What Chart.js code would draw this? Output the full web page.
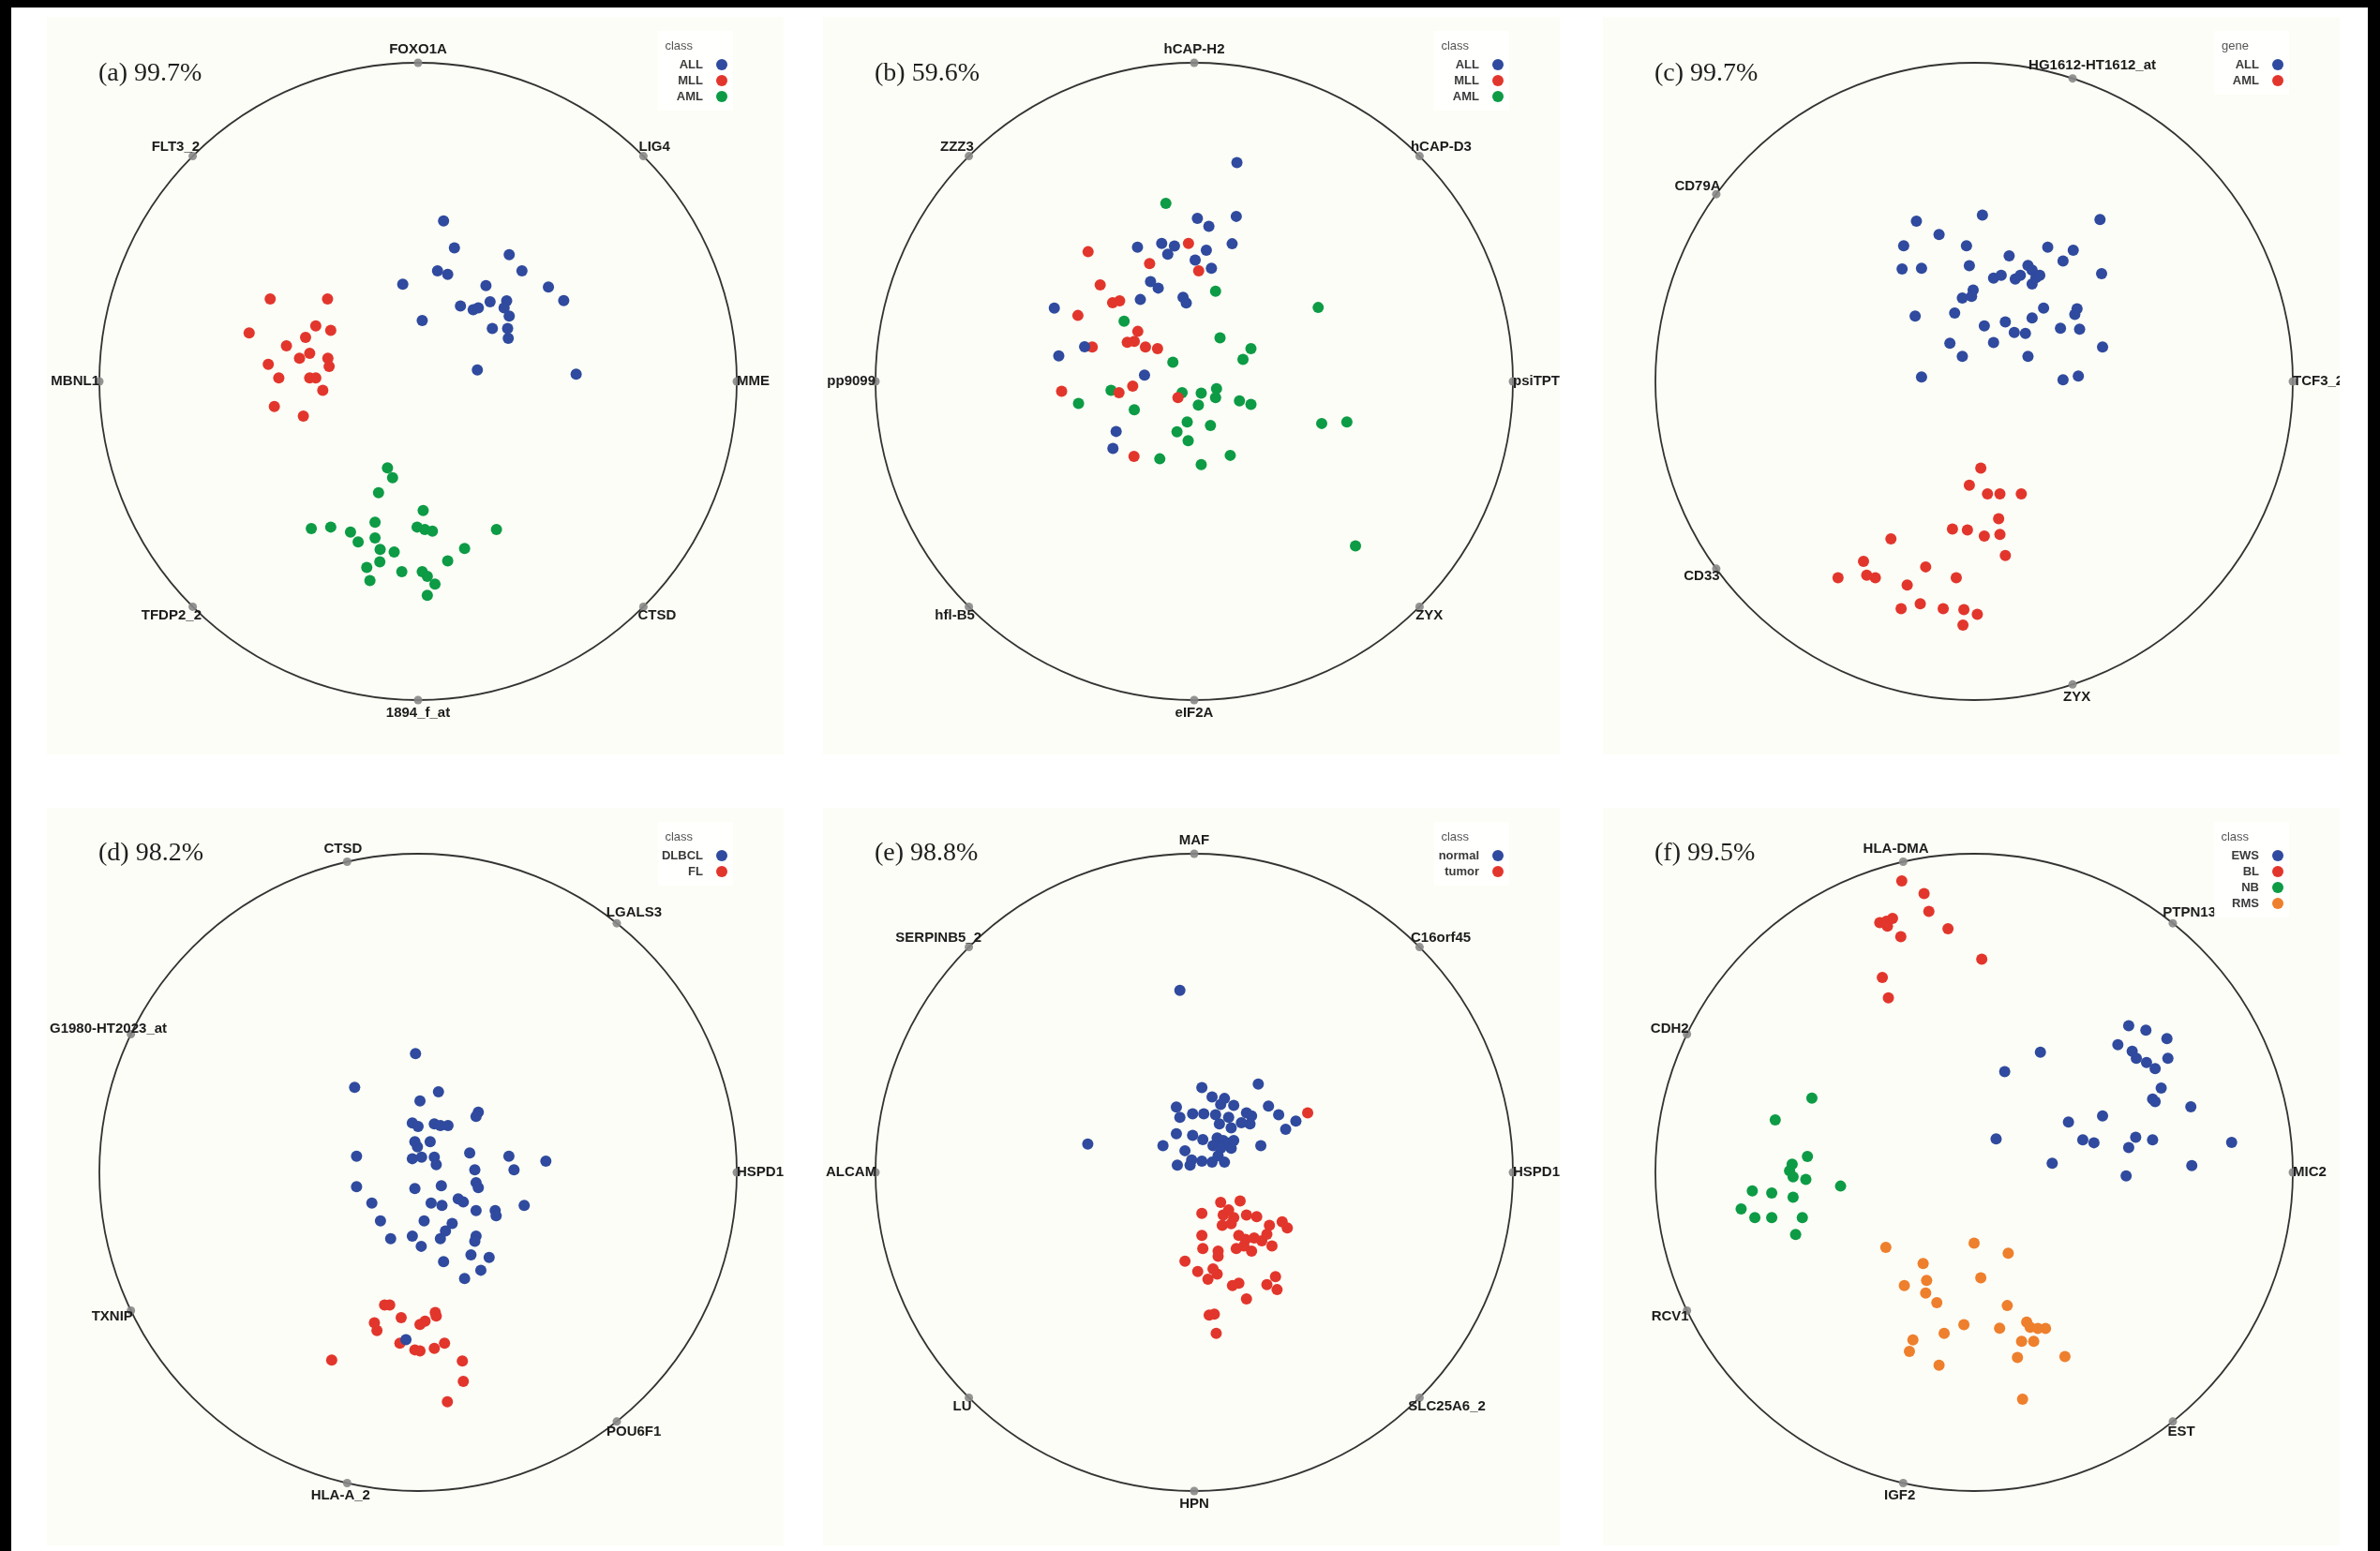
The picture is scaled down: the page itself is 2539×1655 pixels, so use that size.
<!DOCTYPE html>
<html>
<head>
<meta charset="utf-8">
<title>RadViz projections</title>
<script src="https://cdn.jsdelivr.net/npm/chart.js@4.4.1/dist/chart.umd.min.js"></script>
<style>
  html, body { margin: 0; padding: 0; background: #fff; }
  body { width: 2539px; height: 1655px; position: relative; overflow: hidden; }
  .edge { position: absolute; background: #000; }
  .panel { position: absolute; width: 786px; height: 787px; background: #fcfdf6; }
  .panel canvas { display: block; }
</style>
</head>
<body>
<div class="edge" style="left:0;top:0;width:2539px;height:8px"></div>
<div class="edge" style="left:0;top:0;width:12px;height:1655px"></div>
<div class="edge" style="left:2526px;top:0;width:13px;height:1655px"></div>

<div class="panel" style="left:50px;top:18px"><canvas id="chartA" width="786" height="787"></canvas></div>
<div class="panel" style="left:878px;top:18px"><canvas id="chartB" width="786" height="787"></canvas></div>
<div class="panel" style="left:1710px;top:18px"><canvas id="chartC" width="786" height="787"></canvas></div>
<div class="panel" style="left:50px;top:862px"><canvas id="chartD" width="786" height="787"></canvas></div>
<div class="panel" style="left:878px;top:862px"><canvas id="chartE" width="786" height="787"></canvas></div>
<div class="panel" style="left:1710px;top:862px"><canvas id="chartF" width="786" height="787"></canvas></div>

<script>
// anchors are listed counter-clockwise, starting at the right (0 rad)
const anchorsA = ["MME", "LIG4", "FOXO1A", "FLT3_2", "MBNL1", "TFDP2_2", "1894_f_at", "CTSD"];
const anchorsB = ["psiTPTE22", "hCAP-D3", "hCAP-H2", "ZZZ3", "pp9099", "hfl-B5", "eIF2A", "ZYX"];
const anchorsC = ["TCF3_2", "HG1612-HT1612_at", "CD79A", "CD33", "ZYX"];
const anchorsD = ["HSPD1", "LGALS3", "CTSD", "G1980-HT2023_at", "TXNIP", "HLA-A_2", "POU6F1"];
const anchorsE = ["HSPD1", "C16orf45", "MAF", "SERPINB5_2", "ALCAM", "LU", "HPN", "SLC25A6_2"];
const anchorsF = ["MIC2", "PTPN13", "HLA-DMA", "CDH2", "RCV1", "IGF2", "EST"];

const titles = ["(a) 99.7%", "(b) 59.6%", "(c) 99.7%", "(d) 98.2%", "(e) 98.8%", "(f) 99.5%"];

// (a) leukemia, 3 classes
const A_ALL = [[0.080,0.504],[0.114,0.419],[0.286,0.398],[0.061,0.347],[0.093,0.336],[0.326,0.347],[-0.048,0.305],[0.213,0.301],[0.409,0.296],[0.457,0.254],[0.133,0.237],[0.173,0.225],[0.189,0.231],[0.226,0.250],[0.278,0.253],[0.270,0.231],[0.286,0.205],[0.233,0.166],[0.281,0.166],[0.283,0.135],[0.013,0.191],[0.186,0.036],[0.496,0.023]];
const A_MLL = [[-0.464,0.259],[-0.284,0.259],[-0.530,0.152],[-0.321,0.174],[-0.274,0.160],[-0.353,0.138],[-0.413,0.112],[-0.372,0.073],[-0.340,0.088],[-0.283,0.073],[-0.279,0.047],[-0.470,0.054],[-0.437,0.011],[-0.340,0.011],[-0.321,0.011],[-0.299,-0.028],[-0.451,-0.079],[-0.360,-0.109]];
const A_AML = [[-0.096,-0.271],[-0.080,-0.302],[-0.124,-0.349],[-0.335,-0.462],[-0.274,-0.457],[-0.212,-0.473],[-0.135,-0.442],[-0.003,-0.457],[0.016,-0.405],[0.021,-0.465],[0.045,-0.470],[0.246,-0.465],[-0.188,-0.504],[-0.135,-0.491],[-0.119,-0.527],[-0.075,-0.535],[-0.120,-0.566],[-0.161,-0.584],[0.093,-0.563],[0.146,-0.524],[-0.051,-0.597],[-0.151,-0.625],[0.013,-0.597],[0.029,-0.612],[0.053,-0.636],[0.029,-0.671]];

// (b) leukemia, weaker gene set
const B_ALL = [[0.134,0.687],[0.132,0.518],[0.010,0.512],[0.046,0.487],[0.119,0.432],[-0.102,0.433],[-0.062,0.425],[-0.083,0.399],[-0.178,0.421],[0.038,0.412],[0.003,0.381],[0.054,0.355],[-0.137,0.313],[-0.113,0.293],[-0.169,0.257],[-0.035,0.264],[-0.025,0.246],[-0.439,0.230],[-0.344,0.109],[-0.425,0.080],[-0.156,0.020],[-0.245,-0.157],[-0.255,-0.210]];
const B_MLL = [[-0.333,0.407],[-0.018,0.433],[-0.140,0.370],[0.014,0.347],[-0.295,0.303],[-0.256,0.247],[-0.234,0.253],[-0.365,0.207],[-0.177,0.157],[-0.210,0.123],[-0.188,0.126],[-0.320,0.108],[-0.153,0.108],[-0.115,0.103],[-0.416,-0.031],[-0.236,-0.035],[-0.193,-0.015],[-0.051,-0.051],[-0.189,-0.235]];
const B_AML = [[-0.089,0.559],[0.067,0.283],[0.389,0.232],[-0.220,0.189],[0.081,0.137],[0.178,0.103],[0.153,0.069],[-0.067,0.060],[-0.261,-0.028],[-0.038,-0.035],[0.022,-0.037],[0.070,-0.023],[0.067,-0.051],[0.013,-0.074],[0.142,-0.061],[0.178,-0.072],[-0.363,-0.069],[-0.188,-0.089],[-0.022,-0.127],[0.051,-0.138],[-0.054,-0.158],[-0.019,-0.186],[0.400,-0.132],[0.479,-0.127],[-0.108,-0.243],[0.022,-0.261],[0.113,-0.232],[0.506,-0.516]];

// (c) ALL vs AML
const C_ALL = [[-0.181,0.503],[0.026,0.522],[0.395,0.508],[-0.110,0.461],[-0.221,0.426],[-0.024,0.426],[0.231,0.421],[0.311,0.412],[0.110,0.394],[-0.226,0.353],[-0.165,0.355],[-0.015,0.363],[0.279,0.378],[0.400,0.338],[0.061,0.324],[0.085,0.333],[0.129,0.321],[0.145,0.333],[0.169,0.364],[0.182,0.349],[0.194,0.326],[0.206,0.333],[0.182,0.306],[-0.003,0.287],[-0.037,0.262],[-0.008,0.267],[0.218,0.230],[0.316,0.210],[0.323,0.228],[-0.185,0.205],[-0.061,0.215],[0.032,0.174],[0.098,0.187],[0.182,0.199],[0.271,0.167],[0.331,0.164],[-0.076,0.120],[0.061,0.122],[0.126,0.154],[0.161,0.151],[-0.037,0.079],[0.169,0.079],[0.403,0.108],[-0.165,0.014],[0.279,0.005],[0.327,0.017]];
const C_AML = [[0.021,-0.272],[-0.015,-0.326],[0.042,-0.353],[0.081,-0.353],[0.148,-0.353],[0.077,-0.431],[-0.068,-0.463],[-0.021,-0.466],[0.032,-0.485],[0.081,-0.480],[-0.261,-0.494],[0.098,-0.546],[-0.347,-0.565],[-0.337,-0.608],[-0.310,-0.616],[-0.427,-0.616],[-0.152,-0.582],[-0.056,-0.616],[-0.210,-0.639],[-0.229,-0.713],[-0.169,-0.698],[-0.097,-0.713],[-0.032,-0.716],[0.010,-0.731],[-0.035,-0.765]];

// (d) lymphoma
const D_DLBCL = [[-0.008,0.373],[-0.199,0.267],[0.064,0.253],[0.006,0.224],[0.189,0.189],[0.182,0.176],[-0.018,0.155],[0.000,0.144],[0.051,0.152],[0.070,0.147],[0.094,0.147],[-0.010,0.096],[0.038,0.096],[-0.002,0.080],[-0.193,0.051],[-0.018,0.043],[0.011,0.048],[0.051,0.048],[0.057,0.024],[0.162,0.061],[0.285,0.051],[0.401,0.035],[0.301,0.008],[0.178,0.008],[0.182,-0.032],[0.189,-0.048],[-0.193,-0.045],[-0.010,-0.051],[0.073,-0.042],[-0.145,-0.096],[0.041,-0.096],[0.075,-0.104],[0.126,-0.083],[0.142,-0.093],[-0.118,-0.152],[0.182,-0.120],[0.242,-0.120],[0.245,-0.136],[0.333,-0.104],[0.019,-0.152],[0.107,-0.160],[0.086,-0.184],[0.070,-0.208],[-0.086,-0.208],[-0.018,-0.200],[0.010,-0.232],[0.182,-0.200],[0.178,-0.216],[0.080,-0.280],[0.166,-0.259],[0.223,-0.267],[0.146,-0.333],[0.197,-0.307],[-0.038,-0.525]];
const D_FL = [[-0.105,-0.416],[-0.089,-0.416],[-0.053,-0.456],[-0.137,-0.472],[-0.129,-0.496],[0.006,-0.477],[0.022,-0.467],[0.054,-0.440],[0.057,-0.451],[-0.057,-0.536],[-0.010,-0.557],[0.006,-0.560],[0.051,-0.552],[0.083,-0.536],[-0.271,-0.589],[0.139,-0.592],[0.142,-0.656],[0.092,-0.720]];

// (e) normal vs tumor
const E_normal = [[-0.045,0.571],[0.201,0.277],[0.024,0.266],[0.056,0.237],[0.095,0.232],[0.083,0.213],[0.124,0.210],[-0.056,0.205],[-0.005,0.184],[-0.045,0.173],[0.030,0.184],[0.067,0.181],[0.108,0.173],[0.164,0.187],[0.180,0.177],[0.175,0.152],[0.233,0.208],[0.265,0.181],[0.319,0.161],[0.287,0.135],[0.079,0.152],[0.116,0.140],[0.148,0.156],[-0.005,0.116],[-0.056,0.121],[0.027,0.103],[0.072,0.108],[0.091,0.100],[0.108,0.092],[0.124,0.100],[0.059,0.084],[0.083,0.076],[0.116,0.076],[-0.098,0.084],[0.209,0.084],[-0.334,0.089],[-0.053,0.023],[-0.008,0.039],[-0.013,0.023],[0.024,0.035],[0.056,0.032],[0.075,0.052],[0.095,0.032],[-0.029,0.068]];
const E_tumor = [[0.356,0.187],[0.083,-0.094],[0.144,-0.090],[0.108,-0.118],[0.091,-0.134],[0.124,-0.142],[0.164,-0.134],[0.196,-0.139],[0.024,-0.129],[0.088,-0.166],[0.116,-0.161],[0.236,-0.166],[0.276,-0.155],[0.292,-0.174],[0.228,-0.194],[0.024,-0.198],[0.140,-0.198],[0.161,-0.210],[0.188,-0.206],[0.212,-0.215],[0.156,-0.231],[0.180,-0.247],[0.132,-0.239],[0.244,-0.231],[0.027,-0.239],[0.075,-0.247],[0.075,-0.263],[-0.029,-0.279],[0.011,-0.311],[0.059,-0.303],[0.072,-0.319],[0.043,-0.335],[0.120,-0.355],[0.140,-0.348],[0.228,-0.352],[0.255,-0.327],[0.260,-0.368],[0.164,-0.397],[0.047,-0.448],[0.063,-0.445],[0.069,-0.505]];

// (f) small round blue cell tumours
const F_EWS = [[0.485,0.460],[0.539,0.446],[0.605,0.420],[0.451,0.401],[0.496,0.380],[0.608,0.358],[0.509,0.358],[0.541,0.345],[0.568,0.326],[0.208,0.377],[0.096,0.316],[0.587,0.265],[0.560,0.230],[0.568,0.222],[0.680,0.206],[0.296,0.158],[0.403,0.177],[0.069,0.105],[0.341,0.102],[0.376,0.093],[0.507,0.110],[0.560,0.102],[0.485,0.078],[0.808,0.094],[0.245,0.029],[0.683,0.021],[0.477,-0.011]];
const F_BL = [[-0.227,0.915],[-0.157,0.875],[-0.142,0.819],[-0.296,0.784],[-0.275,0.788],[-0.256,0.797],[-0.272,0.773],[-0.082,0.765],[-0.230,0.740],[0.024,0.669],[-0.288,0.612],[-0.269,0.548]];
const F_NB = [[-0.509,0.233],[-0.624,0.165],[-0.523,0.050],[-0.571,0.026],[-0.579,0.005],[-0.568,-0.014],[-0.528,-0.022],[-0.419,-0.043],[-0.696,-0.058],[-0.635,-0.065],[-0.568,-0.078],[-0.731,-0.115],[-0.688,-0.142],[-0.635,-0.142],[-0.539,-0.142],[-0.560,-0.195]];
const F_RMS = [[-0.277,-0.235],[0.000,-0.222],[0.107,-0.254],[-0.160,-0.286],[0.021,-0.331],[-0.219,-0.355],[-0.149,-0.339],[-0.152,-0.379],[-0.117,-0.409],[0.104,-0.418],[-0.032,-0.478],[0.080,-0.489],[0.165,-0.470],[0.176,-0.486],[0.200,-0.490],[0.224,-0.490],[-0.094,-0.505],[-0.192,-0.526],[0.149,-0.530],[0.187,-0.530],[-0.203,-0.562],[0.136,-0.581],[0.285,-0.578],[-0.110,-0.605],[0.152,-0.712]];

const BLUE = "#2f4a9e", RED = "#e2362c", GREEN = "#0d9b45", ORANGE = "#ee7f2d";

// canvas geometry: circle centre and radius in pixels
const W = 786, H = 787, CX = 396, CY = 389, R = 340;

const radvizPlugin = {
  id: "radviz",
  beforeDatasetsDraw(chart) {
    const ctx = chart.ctx, xs = chart.scales.x, ys = chart.scales.y;
    const cx = xs.getPixelForValue(0), cy = ys.getPixelForValue(0);
    const r = xs.getPixelForValue(1) - cx;
    ctx.save();
    ctx.beginPath();
    ctx.arc(cx, cy, r, 0, Math.PI * 2);
    ctx.strokeStyle = "#333";
    ctx.lineWidth = 1.8;
    ctx.stroke();
    ctx.restore();
  },
  afterDatasetsDraw(chart, args, opts) {
    const ctx = chart.ctx;
    ctx.save();

    // anchor labels
    const meta = chart.getDatasetMeta(0);
    ctx.font = "bold 15px 'Liberation Sans', Arial, sans-serif";
    ctx.fillStyle = "#1c1c1c";
    ctx.textBaseline = "middle";
    ctx.textAlign = "left";
    meta.data.forEach((pt, i) => {
      const raw = chart.data.datasets[0].data[i];
      const label = opts.anchors[i];
      const w = ctx.measureText(label).width;
      let left = pt.x - (0.5 - 0.5 * raw.x) * w;
      if (left < 3) left = 3;
      const y = pt.y - raw.y * 14;
      ctx.fillText(label, left, y);
    });

    // panel title
    ctx.font = "28px 'Liberation Serif', 'Times New Roman', serif";
    ctx.fillStyle = "#1e1e1e";
    ctx.fillText(opts.title, 55, opts.titleY);

    // legend
    const n = opts.classes.length;
    ctx.fillStyle = "rgba(255,255,255,0.85)";
    ctx.fillRect(652, 15, 80, 34 + n * 17);
    ctx.font = "13px 'Liberation Sans', Arial, sans-serif";
    ctx.fillStyle = "#555";
    ctx.textAlign = "right";
    ctx.fillText(opts.legendTitle, 689, 31);
    ctx.font = "bold 13px 'Liberation Sans', Arial, sans-serif";
    opts.classes.forEach((name, i) => {
      const y = 51 + i * 17;
      ctx.fillStyle = "#3a3a3a";
      ctx.fillText(name, 700, y);
      ctx.beginPath();
      ctx.arc(720, y, 6, 0, Math.PI * 2);
      ctx.fillStyle = opts.colors[i];
      ctx.fill();
    });
    ctx.restore();
  }
};

function makePanel(id, title, titleY, anchors, legendTitle, classes, colors, series) {
  const n = anchors.length;
  const anchorPoints = anchors.map((a, i) => ({
    x: Math.cos(2 * Math.PI * i / n),
    y: Math.sin(2 * Math.PI * i / n)
  }));
  const datasets = [{
    label: "anchors",
    data: anchorPoints,
    backgroundColor: "rgba(135,135,135,0.9)",
    borderWidth: 0,
    pointRadius: 4.5
  }];
  classes.forEach((name, i) => {
    datasets.push({
      label: name,
      data: series[i].map(p => ({ x: p[0], y: p[1] })),
      backgroundColor: colors[i],
      borderWidth: 0,
      pointRadius: 6,
      pointHoverRadius: 6
    });
  });

  new Chart(document.getElementById(id), {
    type: "scatter",
    data: { datasets },
    options: {
      responsive: false,
      animation: false,
      events: [],
      layout: { padding: 0, autoPadding: false },
      plugins: {
        legend: { display: false },
        tooltip: { enabled: false },
        radviz: { title, titleY, anchors, legendTitle, classes, colors }
      },
      scales: {
        x: { type: "linear", min: -CX / R, max: (W - CX) / R, display: false },
        y: { type: "linear", min: -(H - CY) / R, max: CY / R, display: false }
      }
    },
    plugins: [radvizPlugin]
  });
}

makePanel("chartA", titles[0], 61, anchorsA, "class", ["ALL", "MLL", "AML"], [BLUE, RED, GREEN], [A_ALL, A_MLL, A_AML]);
makePanel("chartB", titles[1], 61, anchorsB, "class", ["ALL", "MLL", "AML"], [BLUE, RED, GREEN], [B_ALL, B_MLL, B_AML]);
makePanel("chartC", titles[2], 61, anchorsC, "gene", ["ALL", "AML"], [BLUE, RED], [C_ALL, C_AML]);
makePanel("chartD", titles[3], 49, anchorsD, "class", ["DLBCL", "FL"], [BLUE, RED], [D_DLBCL, D_FL]);
makePanel("chartE", titles[4], 49, anchorsE, "class", ["normal", "tumor"], [BLUE, RED], [E_normal, E_tumor]);
makePanel("chartF", titles[5], 49, anchorsF, "class", ["EWS", "BL", "NB", "RMS"], [BLUE, RED, GREEN, ORANGE], [F_EWS, F_BL, F_NB, F_RMS]);
</script>
</body>
</html>
